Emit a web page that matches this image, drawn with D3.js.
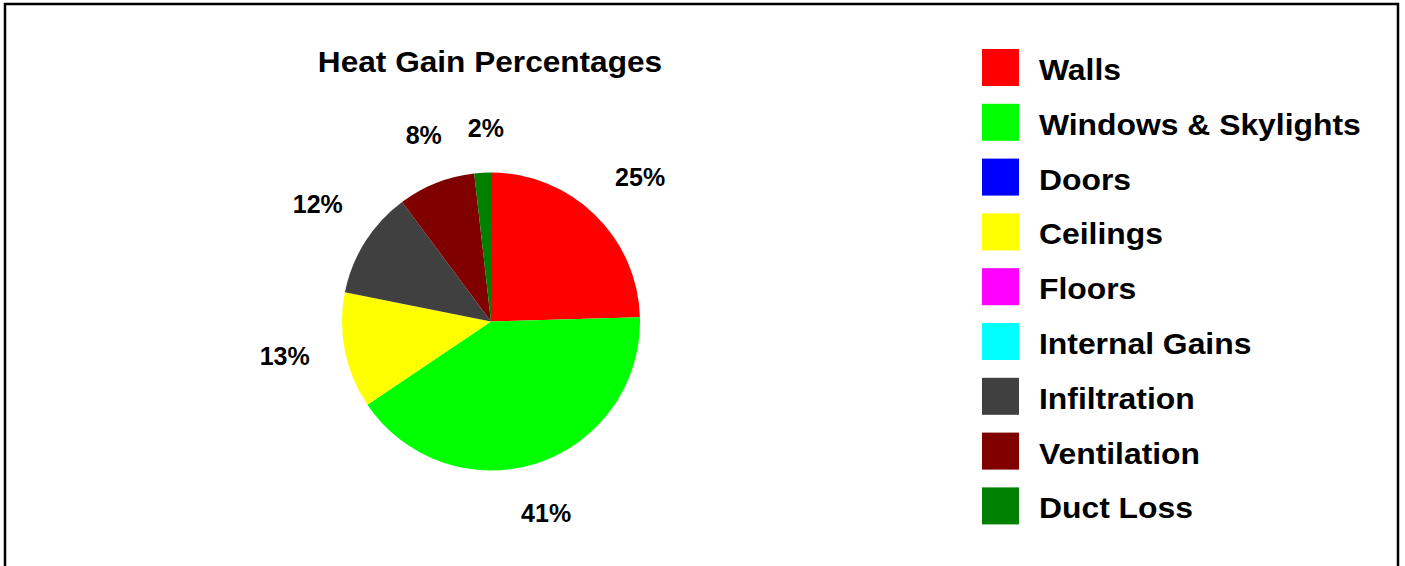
<!DOCTYPE html>
<html><head><meta charset="utf-8">
<script src="https://cdn.jsdelivr.net/npm/d3@7"></script>
<style>html,body{margin:0;padding:0;background:#fff;overflow:hidden}text{font-family:"Liberation Sans",Arial,sans-serif;font-weight:bold}</style>
</head><body>
<svg id="c" width="1405" height="566"></svg>
<script>
const categories = ["Walls","Windows & Skylights","Doors","Ceilings","Floors","Internal Gains","Infiltration","Ventilation","Duct Loss"];
const values = [24.6, 41.1, 0, 12.6, 0, 0, 11.7, 8.4, 1.8];
const colors = ["#ff0000","#00ff00","#0000ff","#ffff00","#ff00ff","#00ffff","#404040","#800000","#008000"];
const title = "Heat Gain Percentages";

const svg = d3.select("#c");
svg.append("rect").attr("x",5).attr("y",4).attr("width",1393).attr("height",600)
  .attr("fill","#fff").attr("stroke","#000").attr("stroke-width",2.5);

svg.append("text").attr("transform","translate(490,72) scale(1.09,1)").attr("text-anchor","middle")
  .attr("font-size",29).text(title);

const cx = 491, cy = 321.5, r = 149;
const data = categories.map((c,i)=>({name:c,value:values[i],color:colors[i]}));
const pie = d3.pie().sort(null).value(d=>d.value);
const arcs = pie(data);
const arc = d3.arc().innerRadius(0).outerRadius(r);
const g = svg.append("g").attr("transform",`translate(${cx},${cy})`);
g.selectAll("path").data(arcs.filter(a=>a.data.value>0)).join("path")
  .attr("d",arc).attr("fill",d=>d.data.color);

const total = d3.sum(values);
const R0 = 183;
g.selectAll("text.lbl").data(arcs.filter(a=>a.data.value>0)).join("text")
  .attr("class","lbl")
  .attr("text-anchor","middle").attr("dy","0.35em").attr("font-size",25)
  .text(d=>Math.round(d.data.value/total*100)+"%")
  .each(function(d){
    const w = this.getComputedTextLength(), h = 19;
    const a = (d.startAngle+d.endAngle)/2 + 0.03;
    const s = Math.sin(a), c = Math.cos(a);
    const off = R0 + (w/2)*Math.abs(s) + (h/2)*Math.abs(c);
    d3.select(this).attr("transform",`translate(${off*s},${-off*c})`);
  });

const lg = svg.append("g").attr("transform","translate(982,49)");
const rowH = 54.8;
const row = lg.selectAll("g").data(data).join("g").attr("transform",(d,i)=>`translate(0,${i*rowH})`);
row.append("rect").attr("width",37).attr("height",37).attr("fill",d=>d.color);
row.append("text").attr("transform","translate(57,31) scale(1.08,1)").attr("font-size",29.5).text(d=>d.name);
</script>
</body></html>
